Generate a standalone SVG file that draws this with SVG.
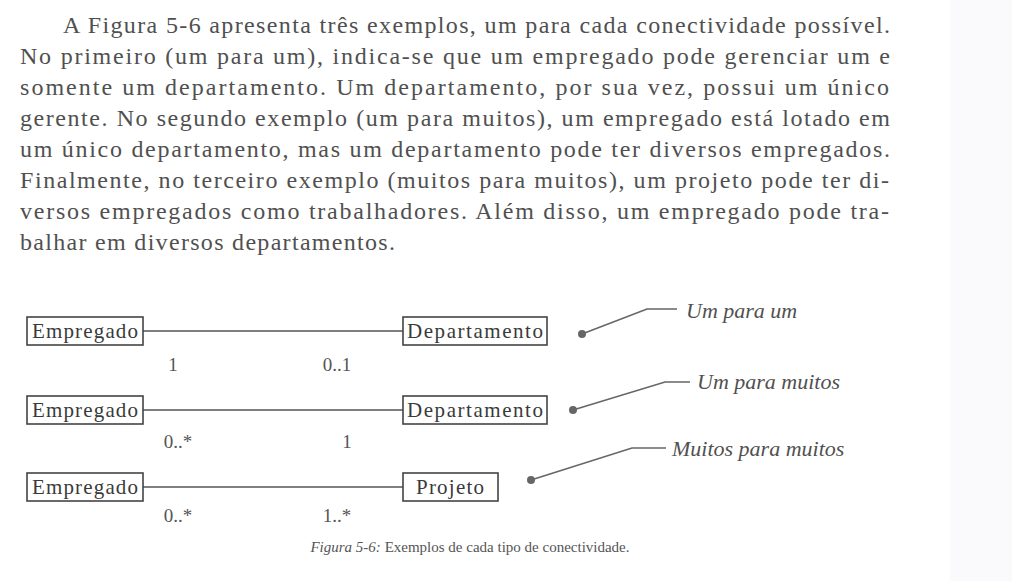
<svg xmlns="http://www.w3.org/2000/svg" width="1012" height="581" viewBox="0 0 1012 581">
<style>
.p{font-family:"Liberation Serif","DejaVu Serif",serif;font-size:24px;fill:#505050}
.n{font-family:"Liberation Serif","DejaVu Serif",serif;font-size:21px;fill:#3a3a3a}
.m{font-family:"Liberation Serif","DejaVu Serif",serif;font-size:19px;fill:#555}
.c{font-family:"Liberation Serif","DejaVu Serif",serif;font-size:22px;font-style:italic;fill:#505050}
.cap{font-family:"Liberation Serif","DejaVu Serif",serif;font-size:15px;fill:#555}
.box{fill:#fff;stroke:#444;stroke-width:1.6}
.ln{stroke:#555;stroke-width:1.4;fill:none}
.co{stroke:#666;stroke-width:1.6;fill:none}
.dot{fill:#666}
</style>
<rect x="0" y="0" width="1012" height="581" fill="#fff"/>
<rect x="950" y="0" width="62" height="581" fill="#fafafc"/>
<g id="paragraph">
<text class="p" x="63" y="33" textLength="827" lengthAdjust="spacing">A Figura 5-6 apresenta três exemplos, um para cada conectividade possível.</text>
<text class="p" x="20" y="64" textLength="870" lengthAdjust="spacing">No primeiro (um para um), indica-se que um empregado pode gerenciar um e</text>
<text class="p" x="20" y="95" textLength="869" lengthAdjust="spacing">somente um departamento. Um departamento, por sua vez, possui um único</text>
<text class="p" x="20" y="126" textLength="870" lengthAdjust="spacing">gerente. No segundo exemplo (um para muitos), um empregado está lotado em</text>
<text class="p" x="20" y="157" textLength="870" lengthAdjust="spacing">um único departamento, mas um departamento pode ter diversos empregados.</text>
<text class="p" x="20" y="188" textLength="869" lengthAdjust="spacing">Finalmente, no terceiro exemplo (muitos para muitos), um projeto pode ter di-</text>
<text class="p" x="20" y="219" textLength="869" lengthAdjust="spacing">versos empregados como trabalhadores. Além disso, um empregado pode tra-</text>
<text class="p" x="20" y="250" textLength="375" lengthAdjust="spacing">balhar em diversos departamentos.</text>
</g>
<g id="connectors">
<line class="ln" x1="143" y1="331" x2="403" y2="331"/>
<line class="ln" x1="143" y1="410" x2="403" y2="410"/>
<line class="ln" x1="143" y1="487" x2="403" y2="487"/>
<polyline class="co" points="582,334 647,309 677,309"/>
<polyline class="co" points="573,410 665,382 690,382"/>
<polyline class="co" points="531,480 632,448 666,448"/>
<circle class="dot" cx="582" cy="334" r="4"/>
<circle class="dot" cx="573" cy="410" r="4"/>
<circle class="dot" cx="531" cy="480" r="4"/>
</g>
<g id="empregado1"><rect class="box" x="27" y="317" width="116" height="28"/><text class="n" x="85" y="338" text-anchor="middle" textLength="106">Empregado</text></g>
<g id="departamento1"><rect class="box" x="403" y="317" width="144" height="28"/><text class="n" x="475" y="338" text-anchor="middle" textLength="136">Departamento</text></g>
<g id="empregado2"><rect class="box" x="27" y="396" width="116" height="28"/><text class="n" x="85" y="417" text-anchor="middle" textLength="106">Empregado</text></g>
<g id="departamento2"><rect class="box" x="403" y="396" width="144" height="28"/><text class="n" x="475" y="417" text-anchor="middle" textLength="136">Departamento</text></g>
<g id="empregado3"><rect class="box" x="27" y="473" width="116" height="28"/><text class="n" x="85" y="494" text-anchor="middle" textLength="106">Empregado</text></g>
<g id="projeto"><rect class="box" x="403" y="473" width="95" height="28"/><text class="n" x="450" y="494" text-anchor="middle" textLength="68">Projeto</text></g>
<g id="labels">
<text class="m" x="173" y="371" text-anchor="middle">1</text>
<text class="m" x="337" y="371" text-anchor="middle">0..1</text>
<text class="m" x="178" y="448" text-anchor="middle">0..*</text>
<text class="m" x="347" y="448" text-anchor="middle">1</text>
<text class="m" x="178" y="522" text-anchor="middle">0..*</text>
<text class="m" x="337" y="522" text-anchor="middle">1..*</text>
<text class="c" x="686" y="318">Um para um</text>
<text class="c" x="697" y="389">Um para muitos</text>
<text class="c" x="672" y="456">Muitos para muitos</text>
<text class="cap" x="470" y="552" text-anchor="middle"><tspan font-style="italic">Figura 5-6:</tspan> Exemplos de cada tipo de conectividade.</text>
</g>
</svg>
